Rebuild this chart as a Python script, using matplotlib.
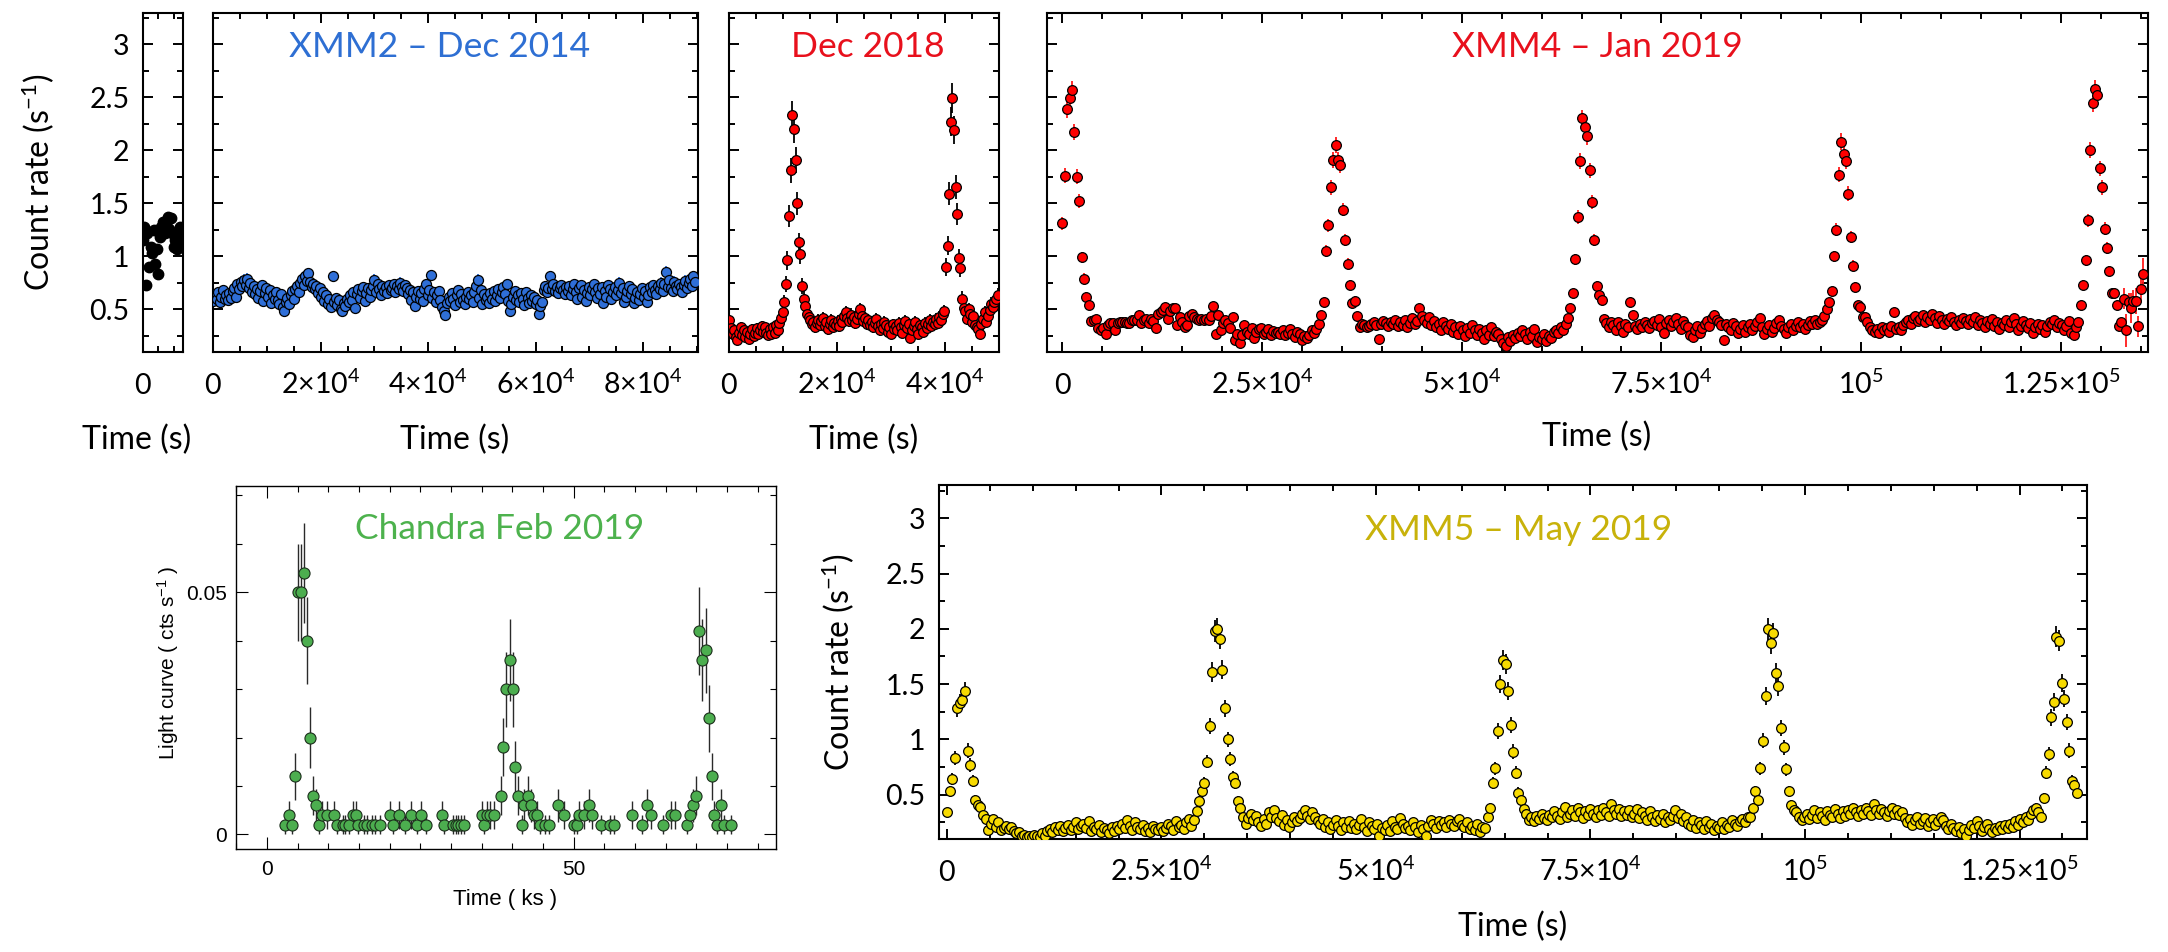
import numpy as np
import matplotlib
matplotlib.use("Agg")
import matplotlib.pyplot as plt
from matplotlib.ticker import MultipleLocator, FixedLocator, FuncFormatter

# ---------------------------------------------------------------- data
# XMM1 (short exposure), 100 s bins, count rate (s^-1)
xmm1_bin = 100.0
xmm1_rate = [1.15, 1.28, 0.73, 1.22, 0.90, 1.09, 1.03, 1.25, 0.93, 1.07, 0.83, 1.18, 1.28,
             1.32, 1.22, 1.30, 1.37, 1.26, 1.36, 1.22, 1.09, 1.15, 1.07, 1.20, 1.28, 1.12]

# XMM2 - Dec 2014, 300 s bins
xmm2_bin = 300.0
xmm2_rate = [
    0.58, 0.64, 0.60, 0.66, 0.57, 0.62, 0.68, 0.60, 0.63, 0.59, 0.65, 0.61, 0.67, 0.70, 0.62, 0.74, 0.69, 0.76, 0.72, 0.78,
    0.73, 0.79, 0.70, 0.75, 0.66, 0.72, 0.64, 0.69, 0.61, 0.67, 0.73, 0.58, 0.65, 0.70, 0.62, 0.68, 0.56, 0.63, 0.60, 0.66,
    0.59, 0.55, 0.64, 0.52, 0.48, 0.57, 0.61, 0.55, 0.63, 0.67, 0.60, 0.69, 0.72, 0.66, 0.75, 0.79, 0.73, 0.81, 0.77, 0.84,
    0.76, 0.71, 0.74, 0.69, 0.72, 0.65, 0.70, 0.62, 0.66, 0.58, 0.63, 0.55, 0.60, 0.52, 0.81, 0.57, 0.61, 0.54, 0.59, 0.50,
    0.48, 0.56, 0.53, 0.60, 0.57, 0.63, 0.59, 0.66, 0.51, 0.64, 0.69, 0.61, 0.67, 0.71, 0.58, 0.65, 0.70, 0.62, 0.68, 0.72,
    0.78, 0.66, 0.74, 0.69, 0.63, 0.72, 0.67, 0.71, 0.65, 0.73, 0.68, 0.70, 0.74, 0.66, 0.72, 0.69, 0.75, 0.71, 0.67, 0.73,
    0.70, 0.64, 0.68, 0.59, 0.66, 0.53, 0.62, 0.67, 0.60, 0.65, 0.58, 0.69, 0.74, 0.63, 0.68, 0.82, 0.61, 0.66, 0.57, 0.63,
    0.67, 0.59, 0.52, 0.48, 0.45, 0.56, 0.62, 0.58, 0.65, 0.60, 0.54, 0.63, 0.68, 0.57, 0.64, 0.59, 0.55, 0.62, 0.66, 0.60,
    0.63, 0.57, 0.66, 0.72, 0.78, 0.61, 0.68, 0.55, 0.64, 0.59, 0.62, 0.56, 0.65, 0.60, 0.67, 0.58, 0.63, 0.69, 0.61, 0.66,
    0.71, 0.64, 0.74, 0.58, 0.48, 0.55, 0.62, 0.67, 0.59, 0.63, 0.57, 0.65, 0.60, 0.54, 0.66, 0.61, 0.56, 0.63, 0.58, 0.62,
    0.55, 0.59, 0.46, 0.53, 0.57, 0.68, 0.72, 0.66, 0.70, 0.81, 0.69, 0.74, 0.67, 0.71, 0.65, 0.70, 0.73, 0.68, 0.64, 0.71,
    0.67, 0.72, 0.63, 0.69, 0.74, 0.66, 0.60, 0.70, 0.73, 0.62, 0.68, 0.58, 0.65, 0.71, 0.63, 0.69, 0.74, 0.66, 0.61, 0.70,
    0.64, 0.71, 0.56, 0.67, 0.62, 0.73, 0.69, 0.60, 0.66, 0.71, 0.63, 0.68, 0.75, 0.65, 0.70, 0.57, 0.62, 0.67, 0.72, 0.64,
    0.69, 0.56, 0.61, 0.66, 0.59, 0.64, 0.70, 0.62, 0.67, 0.57, 0.63, 0.71, 0.66, 0.73, 0.68, 0.64, 0.72, 0.69, 0.75, 0.67,
    0.74, 0.85, 0.71, 0.78, 0.70, 0.67, 0.76, 0.72, 0.69, 0.74, 0.71, 0.66, 0.73, 0.77, 0.70, 0.75, 0.79, 0.72, 0.81, 0.76,
]

# XMM3 - Dec 2018, 300 s bins
xmm3_bin = 300.0
xmm3_rate = [
    0.40, 0.32, 0.27, 0.30, 0.24, 0.21, 0.28, 0.33, 0.26, 0.30, 0.24, 0.29, 0.22, 0.27, 0.31, 0.25, 0.28,
    0.32, 0.27, 0.30, 0.34, 0.29, 0.33, 0.28, 0.26, 0.31, 0.27, 0.33, 0.28, 0.35, 0.30, 0.37, 0.42, 0.47,
    # eruption 1
    0.57, 0.74, 0.96, 1.38, 1.81, 2.33, 2.20, 1.91, 1.50, 1.13, 1.02, 0.72, 0.60, 0.53, 0.46,
    0.43, 0.40, 0.36, 0.38, 0.33, 0.37, 0.40, 0.35, 0.39, 0.42, 0.34, 0.38, 0.31, 0.36, 0.40, 0.33, 0.37, 0.35, 0.39, 0.34,
    0.41, 0.38, 0.44, 0.47, 0.42, 0.39, 0.45, 0.40, 0.43, 0.37, 0.41, 0.46, 0.50, 0.44, 0.39, 0.42, 0.36, 0.40, 0.35, 0.38,
    0.33, 0.37, 0.41, 0.34, 0.30, 0.36, 0.32, 0.38, 0.35, 0.29, 0.33, 0.27, 0.36, 0.31, 0.34, 0.30, 0.37, 0.33, 0.28, 0.35,
    0.39, 0.32, 0.36, 0.23, 0.30, 0.34, 0.38, 0.31, 0.27, 0.35, 0.33, 0.29, 0.37, 0.32, 0.36, 0.40, 0.34, 0.38, 0.36, 0.41,
    0.37, 0.43, 0.40, 0.46, 0.48,
    # eruption 2
    0.90, 1.10, 1.59, 2.27, 2.49, 2.19, 1.65, 1.40, 0.98, 0.89, 0.60, 0.51, 0.48,
    0.41, 0.50, 0.46, 0.38, 0.44, 0.35, 0.33, 0.31, 0.27, 0.36, 0.41, 0.47, 0.38, 0.44, 0.49, 0.55, 0.52, 0.57, 0.60, 0.63,
]

# XMM4 - Jan 2019, 300 s bins
xmm4_bin = 300.0
xmm4_rate = [
    1.31, 1.76, 2.39, 2.49, 2.57, 2.17, 1.75, 1.52, 0.99, 0.79, 0.62, 0.54, 0.39, 0.40, 0.41, 0.32, 0.30, 0.32, 0.27, 0.35,
    0.37, 0.375, 0.30, 0.37, 0.38, 0.38, 0.38, 0.375, 0.37, 0.40, 0.40, 0.40, 0.45, 0.37, 0.40, 0.41, 0.375, 0.41, 0.39, 0.325,
    0.46, 0.475, 0.49, 0.52, 0.41, 0.48, 0.51, 0.51, 0.35, 0.43, 0.38, 0.33, 0.35, 0.44, 0.46, 0.43, 0.41, 0.40, 0.41, 0.40,
    0.41, 0.40, 0.44, 0.53, 0.27, 0.45, 0.30, 0.37, 0.40, 0.37, 0.32, 0.43, 0.21, 0.27, 0.18, 0.26, 0.35, 0.29, 0.27, 0.32,
    0.225, 0.29, 0.31, 0.325, 0.27, 0.29, 0.31, 0.255, 0.295, 0.28, 0.29, 0.27,
    0.30, 0.26, 0.28, 0.31, 0.27, 0.24, 0.29, 0.27, 0.21, 0.25, 0.23, 0.26, 0.30, 0.28, 0.31,
    # eruption 2
    0.36, 0.45, 0.57, 1.05, 1.29, 1.65, 1.91, 2.05, 1.91, 1.86, 1.44, 1.15, 0.93, 0.73, 0.56, 0.58, 0.44, 0.33,
    0.36, 0.35, 0.33, 0.34, 0.36, 0.38, 0.35, 0.22, 0.36, 0.39, 0.37, 0.34, 0.38, 0.36, 0.40, 0.34,
    0.38, 0.35, 0.40, 0.33, 0.37, 0.42, 0.36, 0.39, 0.51, 0.44, 0.40, 0.37, 0.43, 0.35, 0.39, 0.33, 0.36, 0.30, 0.38, 0.34,
    0.31, 0.36, 0.29, 0.33, 0.27, 0.34, 0.30, 0.25, 0.32, 0.28, 0.35, 0.30, 0.26, 0.31, 0.28, 0.22, 0.30, 0.26, 0.33, 0.25, 0.29,
    0.27, 0.22, 0.18, 0.15, 0.24, 0.20, 0.26, 0.23, 0.28, 0.25, 0.30, 0.27, 0.22, 0.29, 0.25, 0.31, 0.19, 0.24, 0.22, 0.27,
    0.20, 0.25, 0.23, 0.29, 0.30, 0.28, 0.33,
    # eruption 3
    0.30, 0.36, 0.42, 0.51, 0.65, 0.97, 1.37, 1.90, 2.30, 2.22, 2.13, 1.81, 1.51, 1.15, 0.72, 0.63, 0.59, 0.41,
    0.37, 0.33, 0.38, 0.35, 0.30, 0.38, 0.34, 0.29, 0.36, 0.33, 0.57, 0.45, 0.34, 0.31, 0.36, 0.33, 0.38, 0.35, 0.32, 0.37,
    0.39, 0.35, 0.41, 0.33, 0.28, 0.37, 0.40, 0.34, 0.38, 0.42, 0.36, 0.31, 0.39, 0.35, 0.33, 0.26, 0.24, 0.30, 0.34, 0.28,
    0.32, 0.36, 0.39, 0.34, 0.42, 0.45, 0.40, 0.38, 0.35, 0.21, 0.36, 0.33, 0.30, 0.37, 0.34, 0.28, 0.31, 0.35, 0.29, 0.33,
    0.36, 0.30, 0.34, 0.38, 0.42, 0.33, 0.27, 0.31, 0.35, 0.29, 0.32, 0.37, 0.40, 0.34, 0.31, 0.28, 0.33, 0.36, 0.30, 0.34,
    0.38, 0.33, 0.36, 0.31, 0.35, 0.39, 0.36, 0.40,
    # eruption 4
    0.36, 0.38, 0.40, 0.44, 0.50, 0.57, 0.67, 1.00, 1.25, 1.77, 2.08, 1.96, 1.90, 1.59, 1.18, 0.91, 0.71, 0.54, 0.52, 0.43, 0.43,
    0.38, 0.33, 0.30, 0.29, 0.31, 0.28, 0.33, 0.30, 0.32, 0.29, 0.34, 0.47, 0.31, 0.33, 0.30, 0.35, 0.38, 0.40, 0.36, 0.42,
    0.44, 0.39, 0.41, 0.45, 0.38, 0.43, 0.40, 0.46, 0.42, 0.37, 0.44, 0.40, 0.36, 0.41, 0.39, 0.43, 0.38, 0.35, 0.40, 0.37,
    0.42, 0.39, 0.36, 0.41, 0.38, 0.43, 0.35, 0.40, 0.37, 0.33, 0.39, 0.36, 0.41, 0.34, 0.38, 0.31, 0.37, 0.35, 0.40, 0.33,
    0.38, 0.42, 0.36, 0.30, 0.34, 0.39, 0.35, 0.32, 0.37, 0.28, 0.33, 0.36, 0.31, 0.35, 0.29, 0.34, 0.38, 0.36, 0.40, 0.33,
    0.37, 0.35, 0.30, 0.34, 0.39, 0.28, 0.26, 0.33,
    # eruption 5
    0.38, 0.54, 0.73, 0.96, 1.34, 2.00, 2.44, 2.58, 2.52, 1.83, 1.65, 1.26, 1.08, 0.86, 0.65, 0.65, 0.54, 0.34, 0.38,
    0.60, 0.30, 0.57, 0.51, 0.58, 0.58, 0.34, 0.69, 0.83,
]
# last bins of XMM4 are partially exposed -> larger uncertainties
xmm4_tail_err = [0.10, 0.16, 0.08, 0.14, 0.10, 0.12, 0.10, 0.12, 0.15]

# XMM5 - May 2019, 300 s bins
xmm5_bin = 300.0
xmm5_rate = [
    0.34, 0.53, 0.64, 0.83, 1.28, 1.33, 1.36, 1.44, 0.90, 0.77, 0.62, 0.45, 0.41, 0.39, 0.32, 0.28, 0.18, 0.24, 0.28, 0.21,
    0.25, 0.18,
    0.20, 0.22, 0.19, 0.21, 0.17, 0.15, 0.16, 0.13, 0.14, 0.12, 0.13, 0.12, 0.14, 0.13, 0.12, 0.15, 0.13, 0.17, 0.19, 0.16,
    0.21, 0.18, 0.22, 0.17,
    0.20, 0.23, 0.18, 0.21, 0.25, 0.19, 0.22, 0.24, 0.20, 0.26, 0.17, 0.21, 0.19, 0.23, 0.16, 0.20, 0.18, 0.15, 0.21, 0.17,
    0.22, 0.19, 0.24, 0.20, 0.27, 0.22, 0.18, 0.25, 0.21, 0.19, 0.23, 0.17, 0.20, 0.16, 0.22, 0.19, 0.18, 0.21, 0.17, 0.20,
    0.24, 0.22, 0.18, 0.26, 0.21, 0.23, 0.19, 0.25, 0.28, 0.22, 0.27,
    # eruption 2
    0.35, 0.44, 0.53, 0.61, 0.80, 1.12, 1.61, 1.98, 2.00, 1.91, 1.63, 1.28, 1.00, 0.82, 0.66, 0.61, 0.44, 0.38, 0.30, 0.24, 0.29,
    0.33, 0.27, 0.31, 0.25, 0.22, 0.28, 0.24, 0.34, 0.30, 0.36, 0.29, 0.26, 0.32, 0.23, 0.27, 0.21, 0.25, 0.30, 0.26, 0.29,
    0.33, 0.36, 0.31, 0.28, 0.34, 0.30, 0.26, 0.24, 0.28, 0.21, 0.25, 0.19, 0.23, 0.27, 0.22, 0.18, 0.25, 0.21, 0.26, 0.20,
    0.24, 0.19, 0.23, 0.28, 0.21, 0.17, 0.25, 0.22, 0.19, 0.24, 0.13, 0.20, 0.18, 0.23, 0.17, 0.26, 0.21, 0.19, 0.29, 0.24,
    0.20, 0.22, 0.18, 0.25, 0.21, 0.16, 0.23, 0.19, 0.13, 0.22, 0.27, 0.24, 0.20, 0.26, 0.23, 0.25, 0.21, 0.27, 0.24, 0.22,
    0.26, 0.28, 0.23, 0.21, 0.25, 0.19, 0.22, 0.18, 0.24, 0.16, 0.21, 0.20,
    # eruption 3
    0.30, 0.38, 0.61, 0.74, 1.08, 1.50, 1.72, 1.68, 1.44, 1.13, 0.89, 0.70, 0.52, 0.45, 0.37, 0.33, 0.27,
    0.30, 0.26, 0.31, 0.28, 0.33, 0.29, 0.27, 0.32, 0.30, 0.35, 0.31, 0.28, 0.34, 0.39, 0.30, 0.33, 0.36, 0.31, 0.38, 0.34,
    0.29, 0.35, 0.32, 0.37, 0.33, 0.30, 0.36, 0.32, 0.38, 0.34, 0.31, 0.42, 0.36, 0.33, 0.37, 0.31, 0.35, 0.32, 0.36, 0.30,
    0.33, 0.37, 0.29, 0.34, 0.31, 0.27, 0.35, 0.30, 0.26, 0.32, 0.28, 0.33, 0.25, 0.30, 0.27, 0.31, 0.36, 0.29, 0.33, 0.26,
    0.30, 0.24, 0.22, 0.27, 0.20, 0.25, 0.23, 0.19, 0.26, 0.21, 0.24, 0.18, 0.22, 0.20, 0.25, 0.19, 0.23, 0.21, 0.27, 0.24,
    0.22, 0.26, 0.28, 0.25, 0.30,
    # eruption 4
    0.30, 0.38, 0.53, 0.45, 0.74, 0.99, 1.39, 2.00, 1.87, 1.96, 1.60, 1.48, 1.10, 0.93, 0.73, 0.53, 0.41, 0.36, 0.34, 0.30, 0.27,
    0.30, 0.33, 0.28, 0.32, 0.36, 0.29, 0.34, 0.31, 0.27, 0.35, 0.32, 0.30, 0.37, 0.33, 0.29, 0.35, 0.31, 0.36, 0.33, 0.38,
    0.34, 0.31, 0.36, 0.33, 0.38, 0.35, 0.32, 0.42, 0.36, 0.33, 0.37, 0.34, 0.31, 0.35, 0.38, 0.33, 0.36, 0.32, 0.34, 0.29,
    0.25, 0.28, 0.23, 0.27, 0.30, 0.24, 0.26, 0.29, 0.22, 0.25, 0.28, 0.23, 0.26, 0.30, 0.27, 0.22, 0.19, 0.24, 0.20, 0.17,
    0.21, 0.15, 0.19, 0.13, 0.18, 0.23, 0.20, 0.26, 0.22, 0.17, 0.21, 0.24, 0.19, 0.16, 0.20, 0.18, 0.22, 0.19, 0.23, 0.20,
    0.24, 0.21, 0.26, 0.23, 0.28, 0.25, 0.30, 0.27, 0.33, 0.36, 0.38, 0.34,
    # eruption 5
    0.30, 0.47, 0.70, 0.87, 1.20, 1.34, 1.93, 1.89, 1.51, 1.37, 1.16, 0.90, 0.62, 0.59, 0.52,
]

# Chandra - Feb 2019, 500 s bins (empty bins not shown), time in ks
chandra_bin = 500.0
chandra_t = [
    2.9, 3.6, 4.1, 4.6, 5.0, 5.6, 6.1, 6.6, 7.0, 7.5, 8.0, 8.5, 8.9, 9.8, 11.0, 11.4, 12.4, 12.8, 13.4, 14.1,
    14.5, 14.9, 15.8, 16.3, 17.2, 17.6, 18.4, 20.0, 20.5, 21.6, 22.5, 23.5, 24.4, 25.1, 25.9, 28.6, 28.9, 30.4,
    30.8, 31.2, 31.6, 32.1, 35.0, 35.4, 35.9, 36.4, 37.1, 38.1, 38.5, 38.9, 39.6, 40.1, 40.5, 41.0, 41.6, 41.9,
    42.5, 43.1, 43.6, 44.0, 44.5, 45.3, 46.0, 47.5, 48.5, 50.0, 50.6, 50.9, 51.7, 52.5, 53.0, 54.5, 56.0, 56.6,
    59.5, 61.1, 61.9, 62.6, 64.5, 65.9, 66.5, 68.5, 69.0, 69.5, 70.0, 70.5, 71.0, 71.6, 72.1, 72.6, 72.9, 73.4,
    74.1, 74.5, 75.6,
]
chandra_rate = [
    0.002, 0.004, 0.002, 0.012, 0.050, 0.050, 0.054, 0.040, 0.020, 0.008, 0.006, 0.002, 0.004, 0.004, 0.004, 0.002,
    0.002, 0.002, 0.002, 0.004, 0.004, 0.002, 0.002, 0.002, 0.002, 0.002, 0.002, 0.004, 0.002, 0.004, 0.002, 0.004,
    0.002, 0.004, 0.002, 0.004, 0.002, 0.002, 0.002, 0.002, 0.002, 0.002, 0.004, 0.002, 0.004, 0.004, 0.004, 0.008,
    0.018, 0.030, 0.036, 0.030, 0.014, 0.008, 0.002, 0.006, 0.008, 0.006, 0.004, 0.004, 0.002, 0.002, 0.002, 0.006,
    0.004, 0.002, 0.002, 0.004, 0.004, 0.006, 0.004, 0.002, 0.002, 0.002, 0.004, 0.002, 0.006, 0.004, 0.002, 0.004,
    0.004, 0.002, 0.004, 0.006, 0.008, 0.042, 0.036, 0.038, 0.024, 0.012, 0.004, 0.002, 0.006, 0.002, 0.002,
]

# effective exposure per bin used for the Poisson error bars (s)
xmm3_exposure = 130.0
xmm4_exposure = 350.0
xmm5_exposure = 210.0
xmm2_exposure = 300.0

# ---------------------------------------------------------------- style
plt.rcParams["font.family"] = ["Lato", "DejaVu Sans"]
plt.rcParams["mathtext.fontset"] = "custom"
plt.rcParams["mathtext.rm"] = "Lato"
plt.rcParams["mathtext.it"] = "Lato:italic"
plt.rcParams["mathtext.bf"] = "Lato:bold"

W, H = 2168, 952
fig = plt.figure(figsize=(W / 100, H / 100), dpi=100)


def box(x0, y0, x1, y1):
    return [x0 / W, 1 - y1 / H, (x1 - x0) / W, (y1 - y0) / H]


def sci(v):
    if v == 0:
        return r"$\mathregular{0}$"
    e = int(np.floor(np.log10(v)))
    m = v / 10 ** e
    if np.isclose(m, 1):
        return r"$\mathregular{10^{%d}}$" % e
    return r"$\mathregular{%g{×}10^{%d}}$" % (m, e)


def style_xmm(ax, xticks, xminor, ylabels=False):
    ax.set_ylim(0.1, 3.29)
    ax.yaxis.set_major_locator(MultipleLocator(0.5))
    ax.yaxis.set_minor_locator(MultipleLocator(0.25))
    ax.yaxis.set_major_formatter(FuncFormatter(lambda v, p: "%g" % v))
    ax.set_xticks(xticks)
    ax.set_xticklabels([sci(v) for v in xticks])
    ax.xaxis.set_minor_locator(MultipleLocator(xminor))
    ax.tick_params(which="both", direction="in", top=True, right=True, width=1.4,
                   labelsize=20.5, labelleft=ylabels)
    ax.tick_params(which="major", length=7.5)
    ax.tick_params(which="minor", length=4)
    ax.tick_params(axis="x", pad=30.5)
    ax.tick_params(axis="y", pad=9.5)
    for lab in ax.get_xticklabels():
        lab.set_verticalalignment("baseline")
    for s in ax.spines.values():
        s.set_linewidth(1.5)


def light_curve(ax, t, rate, err, face, ecolor, ms=7.0):
    ax.errorbar(t, rate, yerr=err, fmt="none", ecolor=ecolor, elinewidth=1.3,
                capsize=0, zorder=2)
    ax.plot(t, rate, "o", ms=ms, mfc=face, mec="black", mew=0.9, ls="none", zorder=3)


# ---------------------------------------------------------------- top row
ax1 = fig.add_axes(box(142.7, 13.3, 182.5, 351.7))
r1 = np.array(xmm1_rate)
t1 = np.arange(len(r1)) * xmm1_bin
ax1.plot(t1, r1, "o", ms=7.5, mfc="black", mec="black", ls="none", zorder=3)
style_xmm(ax1, [0, 5000], 1000, ylabels=True)
ax1.set_xlim(0, 2550)

ax2 = fig.add_axes(box(213.3, 13.3, 698.3, 351.7))
r2 = np.array(xmm2_rate)
t2 = np.arange(len(r2)) * xmm2_bin
light_curve(ax2, t2, r2, np.sqrt(r2 / xmm2_exposure), "#2f6fd8", "#2f6fd8", ms=7.2)
style_xmm(ax2, [0, 2e4, 4e4, 6e4, 8e4], 5000)
ax2.set_xlim(0, 9.03e4)

ax3 = fig.add_axes(box(729.3, 13.3, 998.7, 351.7))
r3 = np.array(xmm3_rate)
t3 = np.arange(len(r3)) * xmm3_bin
light_curve(ax3, t3, r3, np.sqrt(r3 / xmm3_exposure), "red", "black")
style_xmm(ax3, [0, 2e4, 4e4], 5000)
ax3.set_xlim(0, 5e4)

ax4 = fig.add_axes(box(1046.9, 13.3, 2147.8, 351.7))
r4 = np.array(xmm4_rate)
t4 = np.arange(len(r4)) * xmm4_bin
e4 = np.sqrt(r4 / xmm4_exposure)
e4[-len(xmm4_tail_err):] = xmm4_tail_err
light_curve(ax4, t4, r4, e4, "red", "#ff1a1a")
style_xmm(ax4, [0, 2.5e4, 5e4, 7.5e4, 1e5, 1.25e5], 5000)
ax4.set_xlim(-1940, 135900)

# ---------------------------------------------------------------- XMM5
ax6 = fig.add_axes(box(938.8, 485, 2087.3, 839))
r6 = np.array(xmm5_rate)
t6 = np.arange(len(r6)) * xmm5_bin
light_curve(ax6, t6, r6, np.sqrt(r6 / xmm5_exposure), "#f7da00", "black")
style_xmm(ax6, [0, 2.5e4, 5e4, 7.5e4, 1e5, 1.25e5], 5000, ylabels=True)
ax6.set_xlim(-950, 132900)
ax6.set_ylim(0.1, 3.3)

# ---------------------------------------------------------------- Chandra
ax5 = fig.add_axes(box(236.3, 485.7, 776, 849))
tc = np.array(chandra_t)
rc = np.array(chandra_rate)
ec = np.sqrt(rc * chandra_bin) / chandra_bin
ax5.errorbar(tc, rc, yerr=ec, fmt="none", ecolor="#2a2a2a", elinewidth=1.0, capsize=0, zorder=2)
ax5.plot(tc, rc, "o", ms=8.0, mfc="#4cae4f", mec="#1c2e1c", mew=0.8, ls="none", zorder=3)
ax5.set_xlim(-5, 83)
ax5.set_ylim(-0.003, 0.072)
ax5.xaxis.set_major_locator(FixedLocator([0, 50, 100]))
ax5.xaxis.set_minor_locator(MultipleLocator(5))
ax5.yaxis.set_major_locator(FixedLocator([0, 0.05]))
ax5.yaxis.set_minor_locator(MultipleLocator(0.01))
ax5.yaxis.set_major_formatter(FuncFormatter(lambda v, p: "%g" % v))
ax5.xaxis.set_major_formatter(FuncFormatter(lambda v, p: "%g" % v))
ax5.tick_params(which="both", direction="in", top=True, right=True, width=0.8,
                labelsize=15, labelfontfamily="Liberation Sans")
ax5.tick_params(which="major", length=8.4)
ax5.tick_params(which="minor", length=4.3)
ax5.tick_params(axis="x", pad=8)
ax5.tick_params(axis="y", pad=7)
for s in ax5.spines.values():
    s.set_linewidth(1.0)

# ---------------------------------------------------------------- text
def ftext(x, y, s, **kw):
    fig.text(x / W, 1 - y / H, s, ha="center", va="center", **kw)


ftext(440, 47, "XMM2 – Dec 2014", color="#2e6fd3", fontsize=25.5)
ftext(868, 47, "Dec 2018", color="#e8101c", fontsize=25.5)
ftext(1597, 47, "XMM4 – Jan 2019", color="#e8101c", fontsize=25.5)
ftext(500, 529, "Chandra Feb 2019", color="#4db24d", fontsize=25.5)
ftext(1519, 530, "XMM5 – May 2019", color="#c8b20a", fontsize=25.5)

count_label = r"Count rate (s$^{\mathregular{-1}}$)"
ftext(38, 182.5, count_label, rotation=90, fontsize=23)
ftext(838, 662, count_label, rotation=90, fontsize=23)

for x, y in [(137, 440), (455, 440), (864, 440), (1597, 437), (1513, 927)]:
    ftext(x, y, "Time (s)", fontsize=23)

ftext(505, 900, "Time ( ks )", fontsize=16, family="Liberation Sans")
ftext(168, 663, r"Light curve ( cts s$^{\mathregular{-1}}$ )", rotation=90, fontsize=15,
      family="Liberation Sans")

fig.savefig("out.png", dpi=100)
